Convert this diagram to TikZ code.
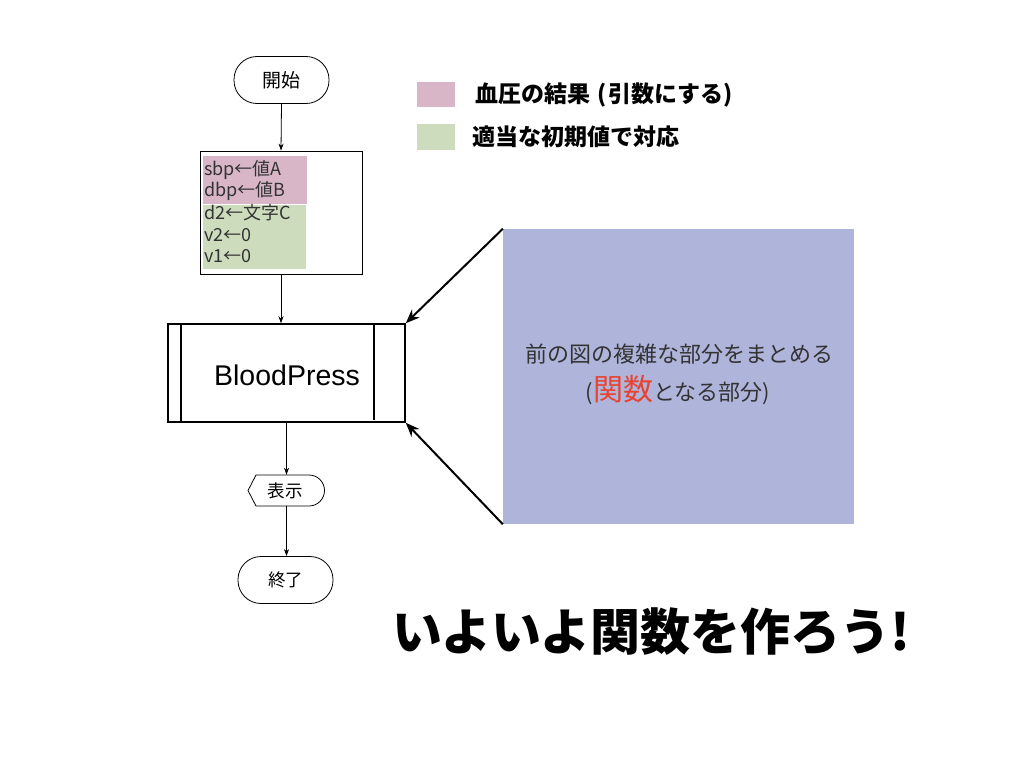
\documentclass[tikz,border=0pt]{standalone}
\usepackage{fontspec}
\setmainfont{Noto Sans CJK JP}
\newfontfamily\lat{Liberation Sans}
\usetikzlibrary{arrows.meta,calc}
\definecolor{pinkc}{HTML}{D8B6C8}
\definecolor{greenc}{HTML}{CDDCBC}
\definecolor{bluec}{HTML}{AFB4DB}
\definecolor{redc}{HTML}{E8432F}
\definecolor{txtc}{HTML}{333333}
\tikzset{
  term/.style={draw, line width=0.8pt, rounded corners=23pt, minimum width=95pt, minimum height=47pt, inner sep=0pt, font=\fontsize{19}{21}\selectfont},
  flow/.style={line width=0.8pt, -{Stealth[length=7pt,width=5pt]}},
  big/.style={line width=2pt, -{Stealth[length=14pt,width=11pt]}},
  boxline/.style={anchor=west, inner sep=0pt, text=txtc, font=\fontsize{18}{20}\selectfont},
  legtext/.style={anchor=west, inner sep=0pt, font=\bfseries\fontsize{23}{25}\selectfont},
}
\begin{document}
\begin{tikzpicture}[x=1pt,y=-1pt]
\useasboundingbox (0,0) rectangle (1024,768);
% start
\node[term] (start) at (281.5,80) {開始};
% init box
\node[draw, line width=0.8pt, minimum width=162pt, minimum height=123pt, inner sep=0pt] (init) at (281,212.5) {};
\fill[pinkc] (203,156) rectangle (307,204);
\fill[greenc] (203,205) rectangle (306,269);
\node[boxline] (l1) at (204,170) {sbp←値A};
\node[boxline] (l2) at (204,191) {dbp←値B};
\node[boxline] (l3) at (204,213) {d2←文字C};
\node[boxline] (l4) at (204,235) {v2←0};
\node[boxline] (l5) at (204,256) {v1←0};
% BloodPress
\node[draw, line width=1.5pt, minimum width=237pt, minimum height=98pt, inner sep=0pt] (bp) at (286.5,373) {};
\draw[line width=1.5pt] (181,324) -- (181,422);
\draw[line width=1.5pt] (374,324) -- (374,420);
\node[font=\lat\fontsize{28.5}{30}\selectfont] (bpt) at (287,375) {BloodPress};
% display
\node[minimum width=76pt, minimum height=31pt, inner sep=0pt, font=\fontsize{17.5}{19}\selectfont] (disp) at (285,490.5) {表示};
\draw[line width=0.8pt] (256,475) -- (309,475) arc[start angle=90,end angle=-90,radius=15.5pt] -- (256,506) -- (248,490.5) -- cycle;
% end
\node[term, font=\fontsize{17.5}{19}\selectfont] (end) at (285.5,580) {終了};
% connectors
\draw[flow] (start.south) -- (init.north);
\draw[flow] (init.south) -- (bp.north -| init.south);
\draw[flow] (bp.south) -- (disp.north -| bp.south);
\draw[flow] (disp.south -| bp.south) -- (end.north -| bp.south);
% legend
\fill[pinkc] (417,82) rectangle (455,107);
\fill[greenc] (417,124) rectangle (455,150);
\node[legtext] (leg1) at (475,95) {血圧の結果\hspace{7pt}(\hspace{2pt}引数にする)};
\node[legtext] (leg2) at (472,137) {適当な初期値で対応};
% blue panel
\node[fill=bluec, minimum width=351pt, minimum height=295pt, inner sep=0pt] (panel) at (678.5,376.5) {};
\node[font=\fontsize{22}{24}\selectfont, text=txtc] (p1) at (679,354) {前の図の複雑な部分をまとめる};
\node[font=\fontsize{22}{24}\selectfont, text=txtc] (p2) at (678,390) {(\textcolor{redc}{\fontsize{30}{32}\selectfont 関数}となる部分)};
\draw[big] (panel.north west) -- (bp.north east);
\draw[big] (panel.south west) -- (bp.south east);
% title
\node[font=\bfseries\fontsize{50}{54}\selectfont] (title) at (651,632) {いよいよ関数を作ろう!};
\end{tikzpicture}
\end{document}
